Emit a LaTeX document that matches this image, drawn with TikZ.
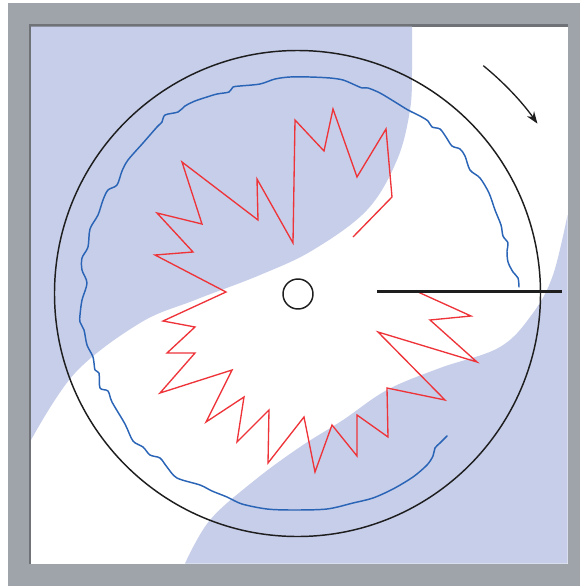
\documentclass[tikz,border=0pt]{standalone}
\usepackage{tikz}
\usetikzlibrary{arrows.meta}
\definecolor{frame}{HTML}{9EA4AA}
\definecolor{frameedge}{HTML}{6F7377}
\definecolor{wash}{HTML}{C7CEE9}
\definecolor{tooth}{HTML}{EE3339}
\definecolor{trace}{HTML}{2A64B6}
\definecolor{ink}{HTML}{1E1E1E}
\tikzset{ring/.style={circle,draw=ink,line width=1.1pt,inner sep=0pt},turn/.style={-{Stealth[length=9pt,width=6.5pt]},draw=ink,line width=1pt},bar/.style={draw=ink,line width=2.7pt}}

\begin{document}
\begin{tikzpicture}[x=0.75pt,y=-0.75pt,
spike/.style={draw=tooth,line width=1pt,line join=miter},
wave/.style={draw=trace,line width=1.1pt,line join=round,line cap=round},
lobe/.style={fill=wash}]
\useasboundingbox (0,0) rectangle (580,586);
\fill[frame] (8,3) rectangle (580,586);
\fill[frameedge] (28.5,24) rectangle (567.5,563.5);
\fill[white] (31,26.5) rectangle (567.5,563.5);
\fill[lobe] (31,440) -- (31,26.5) -- plot[smooth,tension=.6] coordinates {(412,26.5)(412,70)(410,110)(397,160)(367,210)(313,250)(260,275)(195,300)(140,323)(75,373)(31,440)} -- cycle;
\fill[lobe] (567.5,563.5) -- (567.5,215) -- plot[smooth,tension=.6] coordinates {(567.5,215)(553,275)(533,313)(500,347)(440,368)(387,390)(343,420)(300,447)(255,480)(210,520)(185,563.5)} -- cycle;
\node[ring,minimum size=364.5pt] (rim) at (297.5,293.5) {};
\node[ring,minimum size=22.5pt] (hub) at (298,294) {};
\draw[wave] plot[smooth,tension=.5] coordinates {(519,287)(518,278)(513,272)(508,262)(507,251)(508,243)(503,236)(501,225)(495,210)(489,193)(480,178)(470,170)(465,156)(460,149)(452,146)(446,137)(440,129)(432,127)(428,121)(420,116)(408,110)(395,102)(380,93)(368,88)(362,88)(355,85)(343,80)(330,78)(310,77)(290,77)(275,79)(260,84)(240,86)(233,87)(229,92)(217,94)(207,97)(195,101)(185,106)(178,112)(165,115)(162,122)(157,127)(143,143)(128,160)(122,171)(117,185)(108,190)(103,200)(98,215)(90,229)(88,247)(82,258)(82,270)(87,283)(82,300)(80,315)(80,322)(84,330)(87,345)(93,357)(95,370)(99,373)(100,388)(108,391)(112,402)(125,424)(133,441)(143,447)(150,455)(160,458)(167,467)(177,478)(200,485)(212,491)(227,497)(242,504)(267,509)(293,510)(327,509)(353,503)(373,498)(393,489)(413,477)(427,465)(433,456)(435,448)(440,443)(447,436)};
\draw[spike] (418,292)--(471,316)--(430,320)--(477,362)--(378,332)--(445,400)--(387,388)--(388,437)--(357,415)--(357,456)--(332,425)--(315,472)--(304,417)--(268,463)--(269,410)--(237,442)--(244,397)--(206,422)--(232,370)--(160,393)--(195,353)--(167,353)--(195,327)--(163,321)--(226,292)--(155,255)--(193,252)--(157,213)--(202,224)--(182,162)--(258,220)--(257,179)--(293,243)--(295,120)--(324,151)--(333,109)--(357,177)--(386,129)--(392,197)--(353,237);
\draw[bar] (377,291.5) -- (562,291.5);
\draw[turn] ([shift={(-50.8:294)}]rim.center) arc[start angle=-50.8,end angle=-35.3,radius=294];
\end{tikzpicture}
\end{document}
